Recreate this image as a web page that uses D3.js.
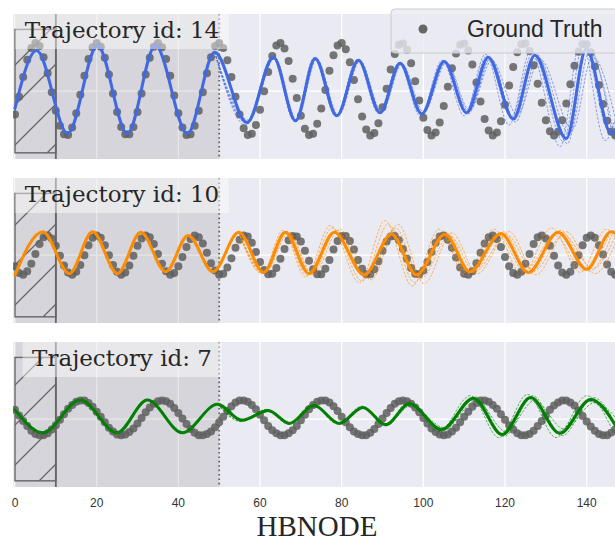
<!DOCTYPE html>
<html>
<head>
<meta charset="utf-8">
<script src="https://cdn.jsdelivr.net/npm/d3@7"></script>
<style>
  body { margin: 0; background: #fff; }
  svg { display: block; }
</style>
</head>
<body>
<div id="chart"></div>
<script>
/* three trajectories: ground truth dots vs HBNODE predictions */

var tickValues = [0, 20, 40, 60, 80, 100, 120, 140];
var trajIds = [14, 10, 7];

// ground truth, one value per time step (t = 0..147)
var gt14 = [-0.38,-0.09,0.23,0.51,0.70,0.78,0.73,0.55,0.29,-0.02,
  -0.32,-0.56,-0.70,-0.71,-0.59,-0.36,-0.06,0.25,0.52,0.71,
  0.78,0.72,0.54,0.27,-0.04,-0.34,-0.58,-0.70,-0.70,-0.58,
  -0.34,-0.04,0.27,0.54,0.72,0.78,0.71,0.52,0.25,-0.07,
  -0.36,-0.59,-0.71,-0.70,-0.56,-0.32,-0.02,0.29,0.55,0.73,
  0.78,0.70,0.50,0.23,-0.09,-0.38,-0.60,-0.71,-0.69,-0.55,
  -0.30,0.00,0.31,0.57,0.74,0.78,0.69,0.49,0.20,-0.11,
  -0.40,-0.61,-0.71,-0.69,-0.53,-0.28,0.02,0.33,0.58,0.74,
  0.78,0.68,0.47,0.18,-0.13,-0.41,-0.62,-0.72,-0.68,-0.52,
  -0.26,0.04,0.35,0.60,0.75,0.77,0.67,0.45,0.16,-0.15,
  -0.43,-0.63,-0.72,-0.67,-0.51,-0.24,0.07,0.37,0.61,0.75,
  0.77,0.66,0.43,0.14,-0.17,-0.45,-0.64,-0.72,-0.67,-0.49,
  -0.22,0.09,0.39,0.63,0.76,0.77,0.65,0.42,0.12,-0.19,
  -0.47,-0.65,-0.72,-0.66,-0.47,-0.20,0.11,0.41,0.64,0.76,
  0.76,0.63,0.40,0.10,-0.21,-0.48,-0.66,-0.72];

var gt10 = [-0.18,-0.29,-0.32,-0.26,-0.14,0.02,0.18,0.29,0.32,0.27,
  0.15,-0.01,-0.17,-0.28,-0.32,-0.27,-0.16,0.00,0.16,0.28,
  0.32,0.28,0.16,0.00,-0.16,-0.27,-0.32,-0.28,-0.17,-0.01,
  0.15,0.27,0.32,0.29,0.18,0.02,-0.14,-0.26,-0.32,-0.29,
  -0.18,-0.03,0.13,0.26,0.32,0.29,0.19,0.04,-0.13,-0.25,
  -0.32,-0.30,-0.20,-0.05,0.12,0.25,0.32,0.30,0.20,0.05,
  -0.11,-0.24,-0.31,-0.30,-0.21,-0.06,0.10,0.24,0.31,0.30,
  0.22,0.07,-0.09,-0.23,-0.31,-0.31,-0.22,-0.08,0.09,0.23,
  0.31,0.31,0.23,0.09,-0.08,-0.22,-0.31,-0.31,-0.23,-0.10,
  0.07,0.22,0.30,0.31,0.24,0.10,-0.06,-0.21,-0.30,-0.31,
  -0.25,-0.11,0.05,0.20,0.30,0.32,0.25,0.12,-0.04,-0.20,
  -0.30,-0.32,-0.26,-0.13,0.04,0.19,0.29,0.32,0.26,0.13,
  -0.03,-0.18,-0.29,-0.32,-0.27,-0.14,0.02,0.18,0.29,0.32,
  0.27,0.15,-0.01,-0.17,-0.28,-0.32,-0.27,-0.16,0.00,0.16,
  0.28,0.32,0.28,0.16,0.01,-0.15,-0.27,-0.32];

var gt7 = [0.15,0.06,-0.03,-0.11,-0.19,-0.24,-0.26,-0.26,-0.23,-0.17,
  -0.10,-0.01,0.08,0.17,0.23,0.28,0.30,0.30,0.26,0.20,
  0.12,0.04,-0.05,-0.14,-0.20,-0.25,-0.26,-0.25,-0.21,-0.15,
  -0.07,0.02,0.11,0.19,0.25,0.29,0.30,0.29,0.25,0.18,
  0.10,0.01,-0.08,-0.16,-0.22,-0.26,-0.26,-0.24,-0.20,-0.13,
  -0.05,0.04,0.13,0.21,0.27,0.30,0.30,0.28,0.23,0.16,
  0.07,-0.02,-0.11,-0.18,-0.23,-0.26,-0.26,-0.23,-0.18,-0.11,
  -0.02,0.07,0.16,0.23,0.28,0.30,0.30,0.27,0.21,0.13,
  0.04,-0.05,-0.13,-0.20,-0.24,-0.26,-0.26,-0.22,-0.16,-0.08,
  0.01,0.10,0.18,0.25,0.29,0.30,0.29,0.25,0.19,0.11,
  0.02,-0.07,-0.15,-0.21,-0.25,-0.26,-0.25,-0.20,-0.14,-0.05,
  0.04,0.12,0.20,0.26,0.30,0.30,0.28,0.23,0.17,0.08,
  -0.01,-0.10,-0.17,-0.23,-0.26,-0.26,-0.24,-0.19,-0.11,-0.03,
  0.06,0.15,0.22,0.27,0.30,0.30,0.27,0.22,0.14,0.05,
  -0.04,-0.12,-0.19,-0.24,-0.26,-0.26,-0.22,-0.17];

// predictions, [t, value] at turning points
var pred14 = [[0,-0.28],[5.3,0.66],[12.9,-0.69],[20.2,0.74],[27.5,-0.69],[34.4,0.74],[42.2,-0.69],
  [48.9,0.63],[56.8,-0.51],[63.3,0.55],[68.7,-0.48],[73.5,0.53],[78.8,-0.40],[84.1,0.50],
  [89.4,-0.35],[94.3,0.45],[99.6,-0.37],[105.1,0.48],[110.6,-0.35],[115.9,0.55],[122,-0.45],
  [127.3,0.58],[135,-0.77],[139.9,0.69],[146,-0.69],[150,0]];

var pred10 = [[0,-0.32],[6.8,0.38],[13.3,-0.30],[19,0.38],[25.1,-0.30],[30.8,0.37],[36.9,-0.27],
  [42.4,0.32],[48.5,-0.27],[54.8,0.37],[60.9,-0.28],[66.2,0.37],[72,-0.30],[78.2,0.37],
  [85.5,-0.32],[92.2,0.34],[98.3,-0.32],[105.3,0.34],[111.4,-0.27],[119,0.35],[125.7,-0.28],
  [133,0.37],[140,-0.23],[146,0.38],[152,-0.2]];

var pred7 = [[0,0.15],[6.8,-0.22],[16,0.31],[25,-0.22],[32.4,0.31],[41,-0.22],[49.6,0.24],
  [55.6,-0.02],[62,0.14],[67.2,-0.07],[73.2,0.22],[79.4,-0.07],[85.2,0.19],[90.8,-0.09],
  [96.6,0.25],[104.5,-0.17],[112.3,0.34],[119.3,-0.25],[126.3,0.35],[133.4,-0.23],
  [141,0.32],[147.5,-0.15]];

// individual sampled trajectories where they spread apart
var samples14 = [
  [[48.9,0.63],[56.5,-0.55],[63,0.56],[68.4,-0.49],[73.2,0.54],[78.5,-0.41],[83.8,0.51],[89,-0.36],[94,0.46],[99.2,-0.40],[104.6,0.50],[110,-0.40],[115.2,0.60],[121,-0.55],[126.3,0.65],[133.5,-0.90],[138.6,0.85],[144.5,-0.80],[149,0.1]],
  [[48.9,0.63],[57.3,-0.47],[63.6,0.54],[69,-0.47],[73.9,0.52],[79.2,-0.39],[84.5,0.49],[89.8,-0.34],[94.8,0.44],[100.1,-0.34],[105.7,0.46],[111.3,-0.31],[116.8,0.50],[123,-0.38],[128.6,0.52],[136.5,-0.62],[141.4,0.56],[147.5,-0.58]],
  [[48.9,0.63],[56.9,-0.53],[63.4,0.55],[68.8,-0.48],[73.6,0.53],[78.9,-0.41],[84.2,0.50],[89.5,-0.36],[94.4,0.45],[99.8,-0.38],[105.3,0.47],[111,-0.37],[116.3,0.52],[122.6,-0.50],[128,0.55],[135.8,-0.70],[140.6,0.62],[146.8,-0.75]],
  [[48.9,0.63],[56.6,-0.50],[63.1,0.56],[68.5,-0.48],[73.4,0.54],[78.6,-0.40],[83.9,0.50],[89.2,-0.35],[94.1,0.46],[99.4,-0.36],[104.9,0.49],[110.3,-0.34],[115.5,0.57],[121.5,-0.42],[126.8,0.62],[134.3,-0.82],[139.2,0.78],[145.3,-0.62],[149.5,0.1]],
  [[48.9,0.63],[57.1,-0.49],[63.5,0.55],[68.9,-0.47],[73.8,0.52],[79.1,-0.40],[84.4,0.49],[89.7,-0.35],[94.6,0.45],[99.9,-0.36],[105.5,0.47],[111.1,-0.33],[116.5,0.53],[122.3,-0.47],[127.7,0.60],[135.3,-0.85],[140.2,0.74],[146.3,-0.72]]
];

var samples10 = [
  [[54.8,0.37],[60.5,-0.30],[65.6,0.40],[71.2,-0.36],[77.2,0.48],[84.4,-0.45],[90.6,0.56],[97.3,-0.50],[103.8,0.42],[110.3,-0.33],[117.3,0.42],[124.2,-0.32],[131.4,0.44],[138.4,-0.28],[144.8,0.42],[150,-0.2]],
  [[54.8,0.37],[61.4,-0.27],[67,0.36],[73,-0.32],[79.5,0.42],[87.2,-0.40],[93.8,0.50],[100.2,-0.46],[107,0.36],[113.2,-0.30],[121,0.38],[127.6,-0.32],[135,0.38],[142,-0.30],[148,0.35]],
  [[54.8,0.37],[61,-0.29],[66.8,0.38],[72.6,-0.31],[78.8,0.40],[86.3,-0.38],[93.2,0.44],[99.4,-0.38],[106.4,0.32],[112.6,-0.27],[120.4,0.33],[127,-0.26],[134.4,0.33],[141.4,-0.22],[147.4,0.36]],
  [[54.8,0.37],[60.6,-0.29],[65.9,0.37],[71.5,-0.33],[77.7,0.44],[85,-0.42],[91.4,0.50],[97.8,-0.44],[104.3,0.36],[110.8,-0.30],[118.2,0.34],[124.8,-0.26],[132.2,0.32],[139.2,-0.25],[145.6,0.33]],
  [[54.8,0.37],[61.2,-0.28],[66.5,0.38],[72.3,-0.30],[78.4,0.38],[85.8,-0.34],[92.6,0.40],[98.8,-0.35],[105.8,0.36],[112,-0.29],[119.6,0.38],[126.2,-0.30],[133.6,0.40],[140.6,-0.26],[146.6,0.40]]
];

var samples7 = [
  [[49.6,0.24],[55.3,-0.04],[61.6,0.16],[66.8,-0.08],[72.8,0.24],[79,-0.08],[84.9,0.21],[90.5,-0.11],[96.2,0.27],[103.8,-0.20],[111.5,0.38],[118.5,-0.30],[125.5,0.40],[132.5,-0.30],[140,0.38],[146.5,-0.2]],
  [[49.6,0.24],[55.9,0.00],[62.4,0.12],[67.6,-0.06],[73.6,0.20],[79.8,-0.06],[85.5,0.18],[91,-0.08],[97,0.22],[105.2,-0.14],[113,0.30],[120.2,-0.20],[127.2,0.30],[134.5,-0.16],[142,0.27],[148.5,-0.1]],
  [[49.6,0.24],[55.5,-0.03],[61.8,0.15],[67.1,-0.07],[73.1,0.23],[79.3,-0.07],[85.1,0.20],[90.9,-0.10],[96.8,0.24],[104.9,-0.19],[112.8,0.36],[119.8,-0.28],[126.8,0.38],[134,-0.27],[141.6,0.35],[148,-0.2]],
  [[49.6,0.24],[55.7,-0.01],[62.2,0.13],[67.4,-0.07],[73.4,0.21],[79.6,-0.07],[85.3,0.19],[90.7,-0.10],[96.4,0.26],[104.2,-0.15],[111.9,0.31],[118.9,-0.22],[125.9,0.32],[133,-0.20],[140.5,0.29],[147,-0.1]]
];

// observed window (hatched) and training window (shaded)
var hatchWindow = [0, 10];
var shadeWindow = [0, 50];
var hatchRange = [-1, 1];

var panels = [
  {id: trajIds[0], color: "royalblue", gt: gt14, pred: pred14, samples: samples14},
  {id: trajIds[1], color: "darkorange", gt: gt10, pred: pred10, samples: samples10},
  {id: trajIds[2], color: "green", gt: gt7, pred: pred7, samples: samples7}
];

// layout
var width = 615, height = 542;
var panelTop = [14, 178, 342];
var panelH = 145;
var panelLeft = 13;

var x = d3.scaleLinear().domain([0, 140]).range([15, 586.7]);

var svg = d3.select("#chart").append("svg")
    .attr("width", width)
    .attr("height", height);

var defs = svg.append("defs");
var pat = defs.append("pattern")
    .attr("id", "hatch")
    .attr("patternUnits", "userSpaceOnUse")
    .attr("width", 40)
    .attr("height", 40);
pat.append("path")
    .attr("d", "M-10,10 L10,-10 M0,40 L40,0 M30,50 L50,30")
    .attr("stroke", "#666")
    .attr("stroke-width", 1.3);

panels.forEach(function(p, i) {
    var top = panelTop[i];
    var y = d3.scaleLinear().domain([-1.1, 1.25]).range([top + panelH, top]);

    defs.append("clipPath").attr("id", "clip" + i)
        .append("rect")
        .attr("x", panelLeft).attr("y", top)
        .attr("width", width - panelLeft).attr("height", panelH);

    var g = svg.append("g").attr("clip-path", "url(#clip" + i + ")");

    // background
    g.append("rect")
        .attr("x", panelLeft).attr("y", top)
        .attr("width", width).attr("height", panelH)
        .attr("fill", "#EAEAF2");

    // grid
    g.selectAll(".vgrid")
        .data(tickValues)
        .enter()
        .append("line")
        .attr("x1", function(d) { return x(d); })
        .attr("x2", function(d) { return x(d); })
        .attr("y1", top).attr("y2", top + panelH)
        .attr("stroke", "#fff")
        .attr("stroke-width", 1.3);
    g.append("line")
        .attr("x1", panelLeft).attr("x2", width)
        .attr("y1", y(0)).attr("y2", y(0))
        .attr("stroke", "#fff")
        .attr("stroke-width", 1.3);

    // shaded window
    g.append("rect")
        .attr("x", x(shadeWindow[0])).attr("y", top)
        .attr("width", x(shadeWindow[1]) - x(shadeWindow[0]))
        .attr("height", panelH)
        .attr("fill", "gray")
        .attr("opacity", 0.2);

    // hatched window
    g.append("rect")
        .attr("x", x(hatchWindow[0])).attr("y", y(hatchRange[1]))
        .attr("width", x(hatchWindow[1]) - x(hatchWindow[0]))
        .attr("height", y(hatchRange[0]) - y(hatchRange[1]))
        .attr("fill", "url(#hatch)")
        .attr("stroke", "#666")
        .attr("stroke-width", 1.4);

    g.append("line")
        .attr("x1", x(hatchWindow[1])).attr("x2", x(hatchWindow[1]))
        .attr("y1", top).attr("y2", top + panelH)
        .attr("stroke", "#666")
        .attr("stroke-width", 1.8);
    g.append("line")
        .attr("x1", x(shadeWindow[1])).attr("x2", x(shadeWindow[1]))
        .attr("y1", top).attr("y2", top + panelH)
        .attr("stroke", "#666")
        .attr("stroke-width", 1.8)
        .attr("stroke-dasharray", "1.6,2.8");

    // ground truth dots
    g.selectAll(".gt")
        .data(p.gt)
        .enter()
        .append("circle")
        .attr("cx", function(d, t) { return x(t); })
        .attr("cy", function(d) { return y(d); })
        .attr("r", 4)
        .attr("fill", "#5f5f5f")
        .attr("opacity", 0.85);

    var line = d3.line()
        .x(function(d) { return x(d[0]); })
        .y(function(d) { return y(d[1]); })
        .curve(d3.curveMonotoneX);

    // sampled trajectories
    g.selectAll(".sample")
        .data(p.samples)
        .enter()
        .append("path")
        .attr("d", function(d) { return line(d); })
        .attr("fill", "none")
        .attr("stroke", p.color)
        .attr("stroke-width", 1)
        .attr("stroke-dasharray", "2.5,1.5")
        .attr("opacity", 0.6);

    g.append("path")
        .attr("d", line(p.pred))
        .attr("fill", "none")
        .attr("stroke", p.color)
        .attr("stroke-width", 3)
        .attr("stroke-linejoin", "round")
        .attr("stroke-linecap", "round");

    // title box
    var tg = svg.append("g");
    var box = tg.append("rect")
        .attr("fill", "#fff")
        .attr("opacity", 0.45);
    var title = tg.append("text")
        .attr("x", 122)
        .attr("y", top + 24)
        .attr("text-anchor", "middle")
        .attr("font-family", "DejaVu Serif")
        .attr("font-size", 23)
        .attr("fill", "#262626")
        .text("Trajectory id: " + p.id);
    var tw = title.node().getComputedTextLength();
    box.attr("x", 122 - tw / 2 - 9.5)
        .attr("y", top)
        .attr("width", tw + 19)
        .attr("height", 35);
});

// x tick labels under the last panel
svg.selectAll(".tick")
    .data(tickValues)
    .enter()
    .append("text")
    .attr("x", function(d) { return x(d); })
    .attr("y", 506.5)
    .attr("text-anchor", "middle")
    .attr("font-family", "Liberation Sans, Arial, sans-serif")
    .attr("font-size", 12)
    .attr("fill", "#333")
    .text(function(d) { return d; });

svg.append("text")
    .attr("x", 317)
    .attr("y", 535.6)
    .attr("text-anchor", "middle")
    .attr("font-family", "Liberation Serif, serif")
    .attr("font-size", 29)
    .attr("fill", "#262626")
    .text("HBNODE");

// legend
var lg = svg.append("g");
lg.append("rect")
    .attr("x", 391).attr("y", 9)
    .attr("width", 240).attr("height", 44)
    .attr("rx", 4)
    .attr("fill", "#EAEAF2")
    .attr("fill-opacity", 0.8)
    .attr("stroke", "#ccc");
lg.append("circle")
    .attr("cx", 423).attr("cy", 29)
    .attr("r", 4.5)
    .attr("fill", "#666");
lg.append("text")
    .attr("x", 467).attr("y", 37)
    .attr("font-family", "Liberation Sans, Arial, sans-serif")
    .attr("font-size", 23)
    .attr("fill", "#262626")
    .text("Ground Truth");
</script>
</body>
</html>
